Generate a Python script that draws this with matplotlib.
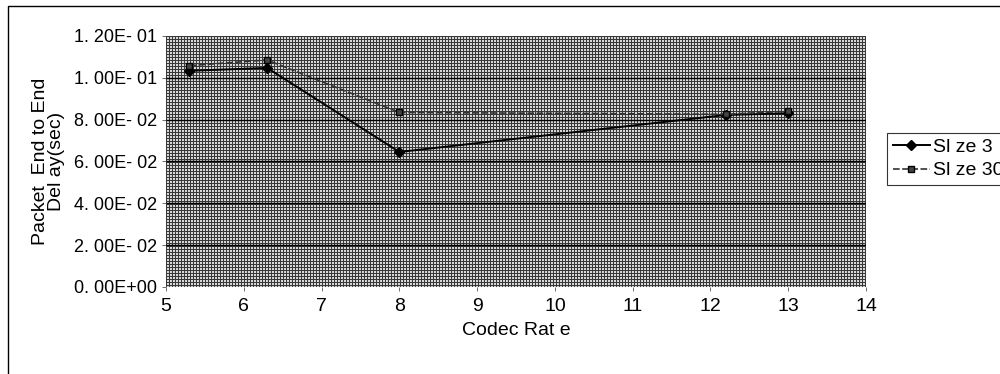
import numpy as np
import matplotlib
matplotlib.use("Agg")
import matplotlib.pyplot as plt
from matplotlib.ticker import FuncFormatter

# Codec rates and end-to-end delay (seconds) for two buffer sizes
codec_rate = [5.3, 6.3, 8.0, 12.2, 13.0]
delay_size3 = [0.1033, 0.1047, 0.0645, 0.0822, 0.0830]
delay_size30 = [0.1058, 0.1085, 0.0834, 0.0825, 0.0840]
series_labels = ["Sl ze 3", "Sl ze 30"]

x_ticks = [5, 6, 7, 8, 9, 10, 11, 12, 13, 14]
y_ticks = [0.0, 0.02, 0.04, 0.06, 0.08, 0.10, 0.12]

plt.rcParams["font.family"] = ["Liberation Sans", "DejaVu Sans"]

fig = plt.figure(figsize=(10, 3.74), dpi=100)
fig.patch.set_facecolor("white")

# outer chart frame
frame = plt.Rectangle((0.008, -0.05), 1.2, 1.034, transform=fig.transFigure,
                      fill=False, edgecolor="black", linewidth=1.0)
fig.patches.append(frame)

ax = fig.add_axes([0.166, 0.233, 0.700, 0.671])

# dithered grey plot-area fill
h, w = 251, 700
rows = np.arange(h)[:, None]
cols = np.arange(w)[None, :]
pattern = np.where((rows % 3 == 0) | (cols % 3 == 0), 0.22, 0.84)
ax.imshow(pattern, cmap="gray", vmin=0, vmax=1, extent=[5, 14, 0, 0.12],
          aspect="auto", interpolation="nearest", zorder=0)

ax.set_xlim(5, 14)
ax.set_ylim(0, 0.12)
ax.set_xticks(x_ticks)
ax.set_yticks(y_ticks)


def sci_fmt(v, pos):
    if v == 0:
        return "0. 00E+00"
    mant, exp = f"{v:.2E}".split("E")
    return mant.replace(".", ". ") + "E- " + exp[1:]


ax.yaxis.set_major_formatter(FuncFormatter(sci_fmt))

for yv in y_ticks[1:-1]:
    ax.axhline(yv, color="black", linewidth=1.0, zorder=1)

for side in ["top", "right", "left", "bottom"]:
    ax.spines[side].set_visible(False)

ax.tick_params(axis="both", direction="out", length=3, width=0.6, colors="#555555",
               labelcolor="black", labelsize=13)
ax.tick_params(axis="x", pad=5, labelsize=14)

ax.plot(codec_rate, delay_size3, color="black", linewidth=1.4, marker="D",
        markersize=5, markerfacecolor="black", label=series_labels[0], zorder=3)
ax.plot(codec_rate, delay_size30, color="#333333", linewidth=1.2, marker="s",
        markersize=5, markerfacecolor="#444444", markeredgecolor="black",
        dashes=(4, 1.5), label=series_labels[1], zorder=3)

ax.set_xlabel("Codec Rat e", fontsize=14, labelpad=5)
ax.set_ylabel("Packet  End to End\nDel ay(sec)", fontsize=14, linespacing=0.95)
ax.yaxis.set_label_coords(-0.144, 0.5)

leg = ax.legend(loc="upper left", bbox_to_anchor=(1.03, 0.615), frameon=True,
                fancybox=False, edgecolor="black", fontsize=14,
                handlelength=1.9, borderpad=0.3, labelspacing=0.3,
                handletextpad=0.15, borderaxespad=0)
leg.get_frame().set_linewidth(0.8)

fig.savefig("out.png", dpi=100, facecolor="white")
